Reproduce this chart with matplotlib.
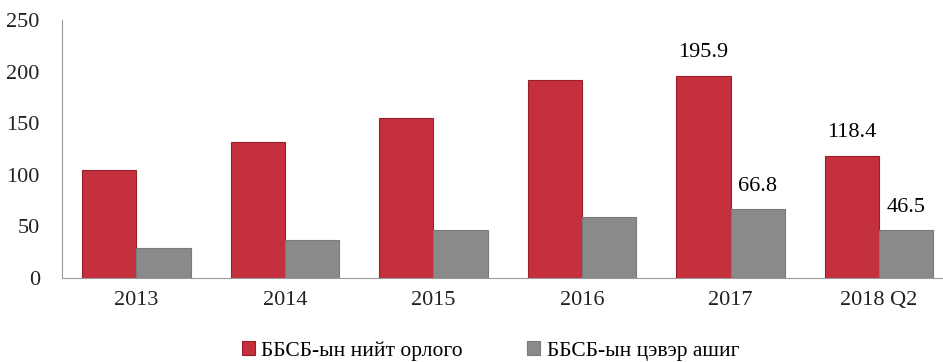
import numpy as np
import matplotlib.pyplot as plt

# ББСБ-ын орлого ба ашиг (тэрбум төгрөг)
years = ['2013', '2014', '2015', '2016', '2017', '2018 Q2']
income = [105, 132, 155, 192, 195.9, 118.4]
profit = [29.5, 37, 46.5, 59, 66.8, 46.5]
labels_income = {4: '195.9', 5: '118.4'}
labels_profit = {4: '66.8', 5: '46.5'}

plt.rcParams['font.family'] = ['Liberation Serif', 'DejaVu Serif']

fig = plt.figure(figsize=(9.43, 3.62), dpi=100)
ax = fig.add_axes([62 / 943, 0.232, 1 - 62 / 943, 0.713])

x = np.arange(len(years))
w = 0.365
red = '#c5303d'
grey = '#8a8a8a'

ax.bar(x - w / 2, income, w, color=red, edgecolor='#9a1f2a', linewidth=0.8,
       label='ББСБ-ын нийт орлого')
ax.bar(x + w / 2, profit, w, color=grey, edgecolor='#7a7a7a', linewidth=0.8,
       label='ББСБ-ын цэвэр ашиг')

for i, txt in labels_income.items():
    ax.text(x[i] - w / 2, income[i] + 13, txt, ha='center', va='bottom', fontsize=16)
for i, txt in labels_profit.items():
    ax.text(x[i] + w / 2, profit[i] + 13, txt, ha='center', va='bottom', fontsize=16)

ax.set_xlim(-0.5, 5.43)
ax.set_ylim(0, 250)
ax.set_yticks(range(0, 251, 50))
ax.set_xticks(x)
ax.set_xticklabels(years)
ax.tick_params(axis='both', length=0, labelsize=16, colors='#222222')
ax.tick_params(axis='x', pad=9)
ax.tick_params(axis='y', pad=16)

for s in ['top', 'right']:
    ax.spines[s].set_visible(False)
ax.spines['left'].set_color('#9a9a9a')
ax.spines['bottom'].set_color('#9a9a9a')

fig.legend(loc='center', bbox_to_anchor=(0.52, 0.03), ncol=2, frameon=False,
           fontsize=15.5, handlelength=0.6, handleheight=0.6, handletextpad=0.3,
           columnspacing=3.0)

fig.savefig('out.png', dpi=100)
